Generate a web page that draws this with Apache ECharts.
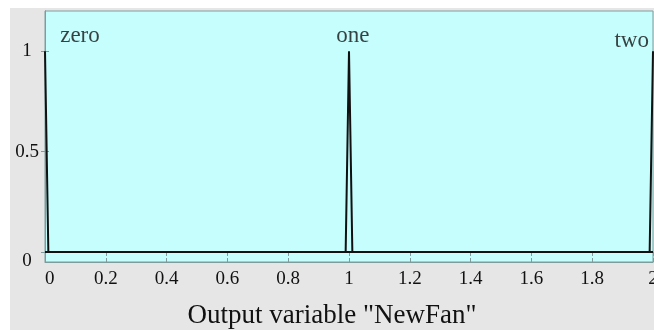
<!DOCTYPE html>
<html>
<head>
<meta charset="utf-8">
<script src="https://cdn.jsdelivr.net/npm/echarts@6/dist/echarts.min.js"></script>
<style>
  html, body { margin: 0; padding: 0; background: #ffffff; }
  #wrap { position: relative; width: 654px; height: 330px; background: #ffffff; overflow: hidden; }
  #chart { position: absolute; left: 10px; top: 8px; width: 644px; height: 322px; background: #e6e6e6; }
</style>
</head>
<body>
<div id="wrap"><div id="chart"></div></div>
<script>
// membership functions, sampled as plotted
const mfNames = ['zero', 'one', 'two'];
const zeroX = [0, 0.011, 2];
const zeroY = [1, 0, 0];
const oneX = [0, 0.989, 1, 1.011, 2];
const oneY = [0, 0, 1, 0, 0];
const twoX = [0, 1.989, 2];
const twoY = [0, 0, 1];

// where the mf names sit
const labelX = [0.115, 1.013, 1.93];
const labelY = [1.075, 1.075, 1.05];

const yTicks = [0, 0.5, 1];
const axisTitle = 'Output variable "NewFan"';

const pairs = (xs, ys) => xs.map((x, i) => [x, ys[i]]);

const chart = echarts.init(document.getElementById('chart'));

const frame = '#7f9c9c';
const serif = 'Liberation Serif';

chart.setOption({
  animation: false,
  title: {
    text: axisTitle,
    left: 'center',
    top: 294,
    padding: 0,
    textStyle: { fontFamily: serif, fontSize: 27, fontWeight: 'normal', color: '#111' }
  },
  grid: {
    left: 35, right: 1, top: 3, bottom: 68,
    containLabel: false,
    outerBoundsMode: 'none',
    show: true,
    backgroundColor: '#c6fefe',
    borderColor: frame,
    borderWidth: 1
  },
  xAxis: [
    {
      type: 'value', min: 0, max: 2, interval: 0.2,
      axisLine: { show: true, onZero: false, lineStyle: { color: frame } },
      axisTick: { show: true, inside: true, length: 4, lineStyle: { color: frame } },
      splitLine: { show: false },
      axisLabel: {
        margin: 8, fontFamily: serif, fontSize: 19, color: '#111',
        alignMinLabel: 'left', hideOverlap: false
      }
    },
    {
      type: 'value', min: 0, max: 2, interval: 0.2, position: 'top',
      axisLine: { show: true, lineStyle: { color: frame } },
      axisTick: { show: true, inside: true, length: 4, lineStyle: { color: frame } },
      splitLine: { show: false },
      axisLabel: { show: false }
    }
  ],
  yAxis: [
    {
      type: 'value', min: -0.05, max: 1.2,
      axisLine: { show: true, onZero: false, lineStyle: { color: frame } },
      axisTick: { show: true, inside: true, length: 4, customValues: yTicks, lineStyle: { color: frame } },
      splitLine: { show: false },
      axisLabel: {
        customValues: yTicks, margin: 18, align: 'center',
        fontFamily: serif, fontSize: 19, color: '#111',
        verticalAlignMinLabel: 'top'
      }
    },
    {
      type: 'value', min: -0.05, max: 1.2, position: 'right',
      axisLine: { show: true, lineStyle: { color: frame } },
      axisTick: { show: true, inside: true, length: 4, customValues: yTicks, lineStyle: { color: frame } },
      splitLine: { show: false },
      axisLabel: { show: false }
    }
  ],
  series: [
    {
      name: mfNames[0], type: 'line', data: pairs(zeroX, zeroY),
      showSymbol: false, clip: true,
      lineStyle: { color: '#111', width: 2 }
    },
    {
      name: mfNames[1], type: 'line', data: pairs(oneX, oneY),
      showSymbol: false, clip: true,
      lineStyle: { color: '#111', width: 2 }
    },
    {
      name: mfNames[2], type: 'line', data: pairs(twoX, twoY),
      showSymbol: false, clip: true,
      lineStyle: { color: '#111', width: 2 }
    },
    {
      name: 'labels', type: 'scatter', symbolSize: 0,
      data: mfNames.map((n, i) => ({ value: [labelX[i], labelY[i]], name: n })),
      label: {
        show: true, position: 'inside', formatter: p => p.name,
        fontFamily: serif, fontSize: 23, color: '#111'
      },
      silent: true
    }
  ]
});
</script>
</body>
</html>
